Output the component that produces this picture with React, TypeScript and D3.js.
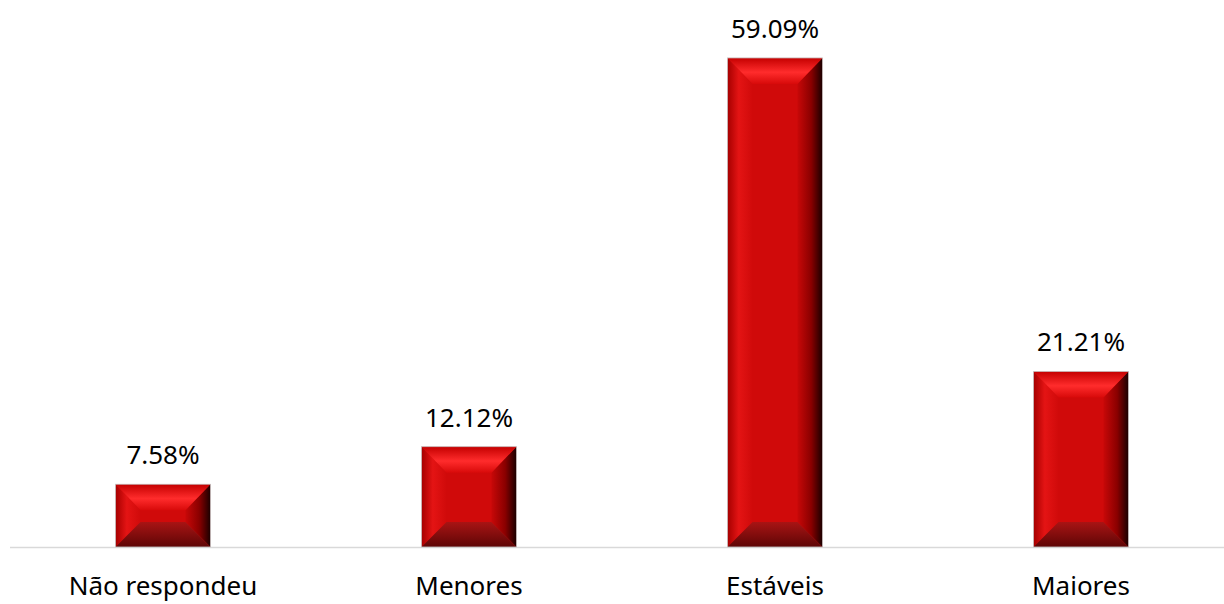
import * as d3 from "d3";

const categories = ["Não respondeu", "Menores", "Estáveis", "Maiores"];
const values = [7.58, 12.12, 59.09, 21.21];
const valueLabels = ["7.58%", "12.12%", "59.09%", "21.21%"];

const W = 1224, H = 604;
const m = { left: 10, right: -10, top: 9, bottom: 57 };

export default function App() {
  const x = d3.scaleBand<string>().domain(categories)
    .range([m.left, W - m.right]).paddingInner(0.69).paddingOuter(0.345);
  const y = d3.scaleLinear().domain([0, 65]).range([H - m.bottom, m.top]);
  const base = y(0);
  const bw = x.bandwidth();
  const font = "'Noto Sans', sans-serif";

  return (
    <svg width={W} height={H} style={{ position: "absolute", left: 0, top: 0, background: "#fff" }}>
      <defs>
        <linearGradient id="gTop" x1="0" y1="0" x2="0" y2="1">
          <stop offset="0%" stopColor="#c40000" />
          <stop offset="55%" stopColor="#ff2c2c" />
          <stop offset="100%" stopColor="#d80a0a" />
        </linearGradient>
        <linearGradient id="gLeft" x1="0" y1="0" x2="1" y2="0">
          <stop offset="0%" stopColor="#a60000" />
          <stop offset="45%" stopColor="#e41414" />
          <stop offset="100%" stopColor="#d00a0a" />
        </linearGradient>
        <linearGradient id="gRight" x1="0" y1="0" x2="1" y2="0">
          <stop offset="0%" stopColor="#c80808" />
          <stop offset="55%" stopColor="#8a0000" />
          <stop offset="100%" stopColor="#1a0000" />
        </linearGradient>
        <linearGradient id="gBot" x1="0" y1="0" x2="0" y2="1">
          <stop offset="0%" stopColor="#a81414" />
          <stop offset="100%" stopColor="#5e0606" />
        </linearGradient>
      </defs>

      <line x1={m.left} x2={W} y1={base + 0.5} y2={base + 0.5} stroke="#d9d9d9" strokeWidth={1.5} />

      {categories.map((c, i) => {
        const x0 = x(c)!;
        const x1 = x0 + bw;
        const y0 = y(values[i]);
        const h = base - y0;
        const b = Math.min(25, h / 2 - 1);
        const bt = Math.min(26, h / 2 - 1);
        const ix0 = x0 + b, ix1 = x1 - b, iy0 = y0 + bt, iy1 = base - b;
        return (
          <g key={c}>
            <rect x={x0} y={y0} width={bw} height={h} fill="#d00a0a" />
            <polygon points={`${x0},${y0} ${ix0},${iy0} ${ix0},${iy1} ${x0},${base}`} fill="url(#gLeft)" />
            <polygon points={`${x1},${y0} ${ix1},${iy0} ${ix1},${iy1} ${x1},${base}`} fill="url(#gRight)" />
            <polygon points={`${x0},${y0} ${x1},${y0} ${ix1},${iy0} ${ix0},${iy0}`} fill="url(#gTop)" />
            <polygon points={`${x0},${base} ${x1},${base} ${ix1},${iy1} ${ix0},${iy1}`} fill="url(#gBot)" />
            <rect x={x0} y={y0} width={bw} height={h} fill="none" stroke="#c8c8c8" strokeWidth={0.8} />
            <text x={x0 + bw / 2} y={y0 - 20} textAnchor="middle" fontFamily={font} fontSize={26} fill="#000">
              {valueLabels[i]}
            </text>
            <text x={x0 + bw / 2} y={595} textAnchor="middle" fontFamily={font} fontSize={26} fill="#000">
              {c}
            </text>
          </g>
        );
      })}
    </svg>
  );
}
